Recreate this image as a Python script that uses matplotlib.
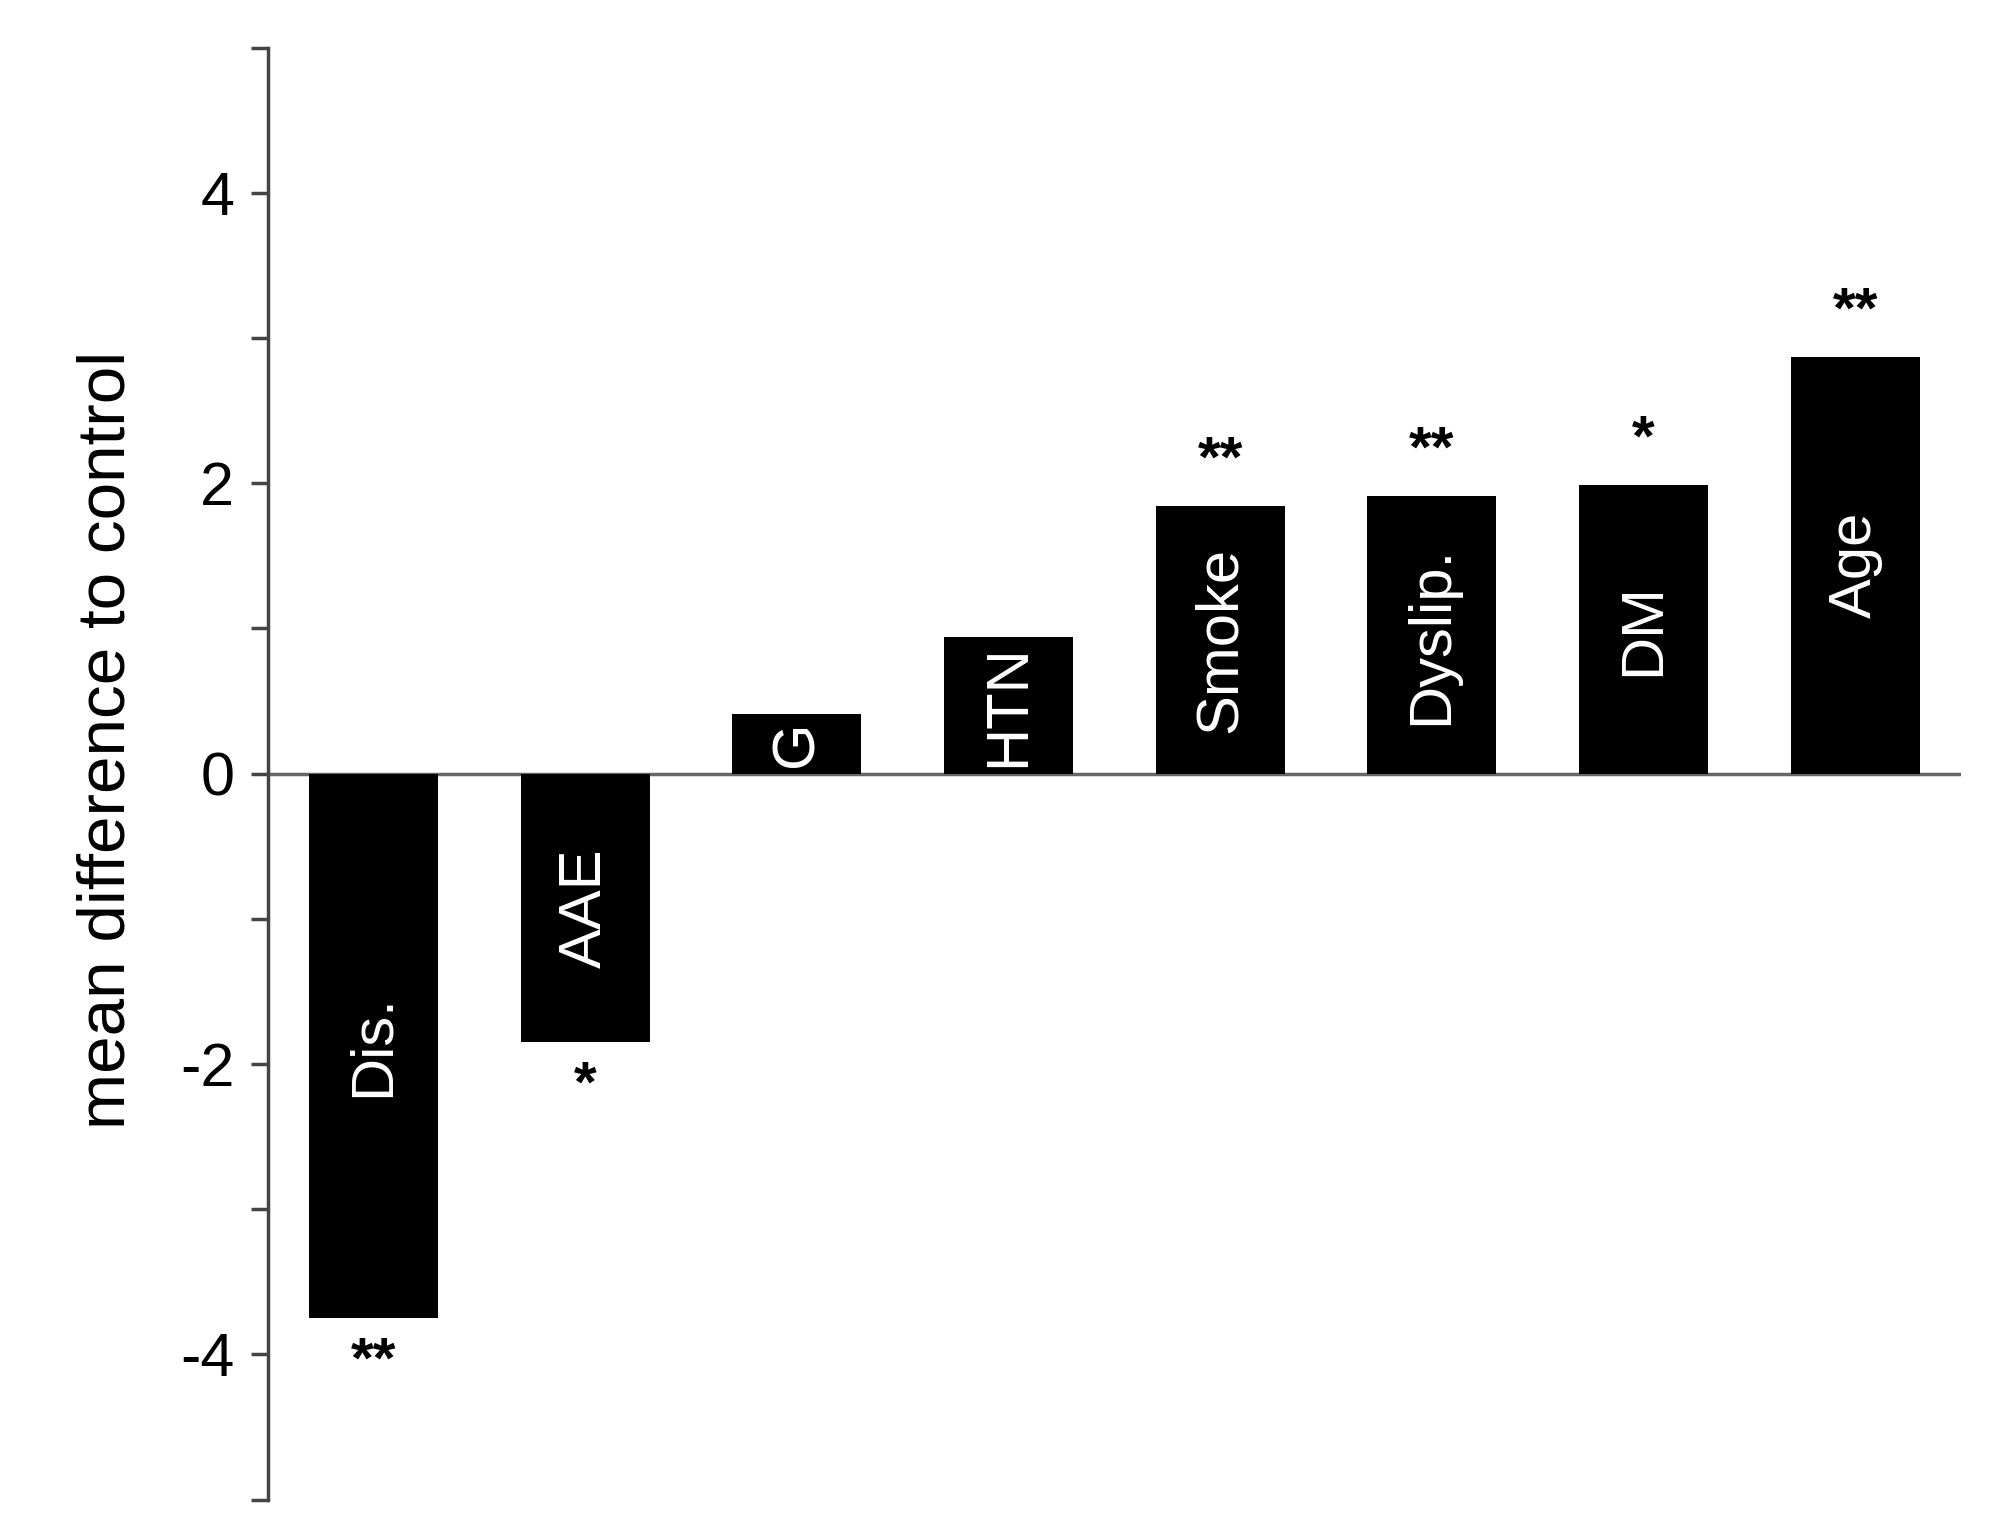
import matplotlib.pyplot as plt

plt.rcParams["font.family"] = ["Liberation Sans", "DejaVu Sans"]

labels = ["Dis.", "AAE", "G", "HTN", "Smoke", "Dyslip.", "DM", "Age"]
values = [-3.75, -1.85, 0.41, 0.94, 1.84, 1.91, 1.99, 2.87]
stars = ["**", "*", "", "", "**", "**", "*", "**"]

fig = plt.figure(figsize=(19.97, 15.35), dpi=100)
ax = fig.add_axes([0.134, 0.023, 0.848, 0.946])

x = range(len(labels))
ax.bar(x, values, width=0.61, color="black", zorder=2)
ax.axhline(0, color="#666666", lw=2.5, zorder=1)

for xi, v, lab, st in zip(x, values, labels, stars):
    ax.text(xi, v / 2, lab, rotation=90, ha="center", va="center",
            color="white", fontsize=43, zorder=3)
    if st:
        if v > 0:
            ax.text(xi, v + 0.12, st, ha="center", va="bottom",
                    fontsize=42, fontweight="bold")
        else:
            ax.text(xi, v - 0.12, st, ha="center", va="top",
                    fontsize=42, fontweight="bold")

ax.set_xlim(-0.5, 7.5)
ax.set_ylim(-5, 5)
ax.set_yticks(range(-5, 6))
ax.set_yticklabels(["" if t % 2 else str(t) for t in range(-5, 6)], fontsize=44)
ax.tick_params(axis="y", length=12, width=2.5, color="#444444", pad=12)
ax.set_xticks([])
for s in ["top", "right", "bottom"]:
    ax.spines[s].set_visible(False)
ax.spines["left"].set_color("#444444")
ax.spines["left"].set_linewidth(2.5)
ax.set_ylabel("mean difference to control", fontsize=48.5)
ax.yaxis.set_label_coords(-0.076, 0.523)

fig.savefig("out.png", dpi=100)
